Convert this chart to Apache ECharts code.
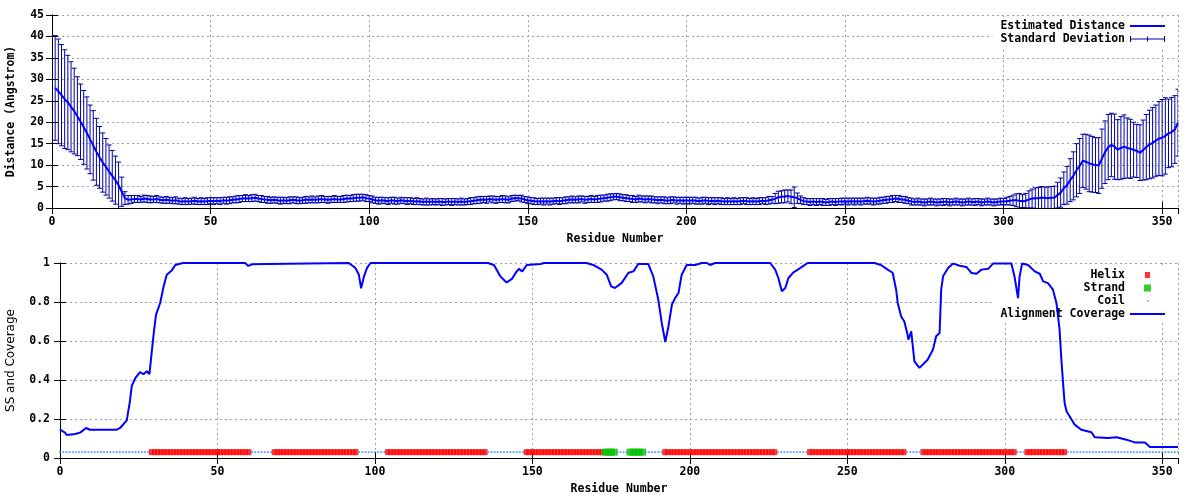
<!DOCTYPE html>
<html><head><meta charset="utf-8">
<script src="https://cdn.jsdelivr.net/npm/echarts@6/dist/echarts.min.js"></script>
<style>html,body{margin:0;padding:0;background:#fff}#c{width:1200px;height:500px}</style>
</head><body><div id="c"></div>
<script>
// ---------- DATA ----------
// Estimated distance per residue (residues 1..355)
const distance = [
 28.0,27.2,26.3,25.4,24.6,23.6,22.6,21.4,20.1,18.8,
 17.5,16.0,14.6,13.1,11.8,10.6,9.6,8.5,7.5,6.5,
 5.3,3.8,2.3,1.9,2.0,2.1,2.1,2.0,2.2,2.1,
 2.0,2.0,2.1,1.9,1.8,1.9,1.8,1.7,1.8,1.6,
 1.5,1.6,1.5,1.6,1.7,1.5,1.6,1.5,1.6,1.7,
 1.6,1.7,1.6,1.8,1.7,1.8,1.9,2.0,2.1,2.2,
 2.3,2.2,2.3,2.4,2.2,2.1,2.0,1.9,1.8,1.9,
 1.8,1.7,1.8,1.7,1.8,1.9,1.8,1.7,1.8,1.9,
 1.9,2.0,1.9,2.0,2.1,2.0,1.9,2.0,2.1,2.0,
 2.0,2.1,2.2,2.2,2.3,2.4,2.4,2.5,2.3,2.2,
 2.0,1.8,1.7,1.8,1.7,1.6,1.8,1.7,1.6,1.8,
 1.7,1.6,1.7,1.5,1.6,1.5,1.4,1.5,1.4,1.5,
 1.4,1.5,1.4,1.4,1.5,1.4,1.5,1.4,1.5,1.4,
 1.5,1.6,1.7,1.8,1.9,2.0,1.9,2.1,2.0,1.9,
 2.0,2.1,2.0,1.9,2.2,2.3,2.3,2.2,2.0,1.8,
 1.7,1.6,1.5,1.6,1.5,1.6,1.5,1.6,1.7,1.6,
 1.7,1.8,1.9,2.0,1.9,2.0,2.1,1.9,2.0,2.1,
 2.0,2.1,2.2,2.3,2.4,2.5,2.6,2.7,2.5,2.4,
 2.3,2.2,2.1,2.0,2.2,2.1,2.0,2.1,2.0,1.9,
 1.8,1.9,1.8,1.7,1.8,1.9,1.7,1.8,1.7,1.8,
 1.7,1.8,1.7,1.6,1.7,1.8,1.6,1.7,1.6,1.7,
 1.6,1.5,1.6,1.5,1.6,1.5,1.6,1.7,1.6,1.5,
 1.6,1.5,1.6,1.7,1.6,1.8,1.9,2.2,2.5,2.6,
 2.7,2.8,2.6,2.5,2.3,1.9,1.6,1.5,1.4,1.5,
 1.4,1.5,1.4,1.3,1.4,1.5,1.4,1.5,1.5,1.6,
 1.5,1.6,1.5,1.6,1.5,1.6,1.7,1.6,1.5,1.6,
 1.7,1.8,1.9,2.0,2.1,2.2,2.1,2.0,1.9,1.7,
 1.5,1.4,1.5,1.4,1.3,1.4,1.5,1.4,1.3,1.4,
 1.4,1.5,1.3,1.4,1.5,1.4,1.3,1.4,1.5,1.4,
 1.4,1.5,1.3,1.4,1.5,1.4,1.3,1.4,1.5,1.5,
 1.6,1.7,1.8,1.8,1.7,1.6,1.7,2.0,2.2,2.3,
 2.3,2.4,2.4,2.3,2.4,2.4,3.0,3.6,4.6,5.3,
 6.5,7.5,8.8,9.8,11.0,10.8,10.4,10.2,10.0,9.9,
 11.5,13.0,14.2,14.7,14.3,13.6,14.0,14.3,14.0,13.8,
 13.6,13.3,12.9,13.5,14.2,14.8,15.2,15.7,16.2,16.4,
 16.8,17.4,17.7,18.3,19.9
];
// Standard deviation per residue (residues 1..355)
const stdDev = [
 12.2,12.2,11.8,11.5,11.0,10.5,10.0,9.2,8.8,8.6,
 8.4,8.0,8.1,7.8,7.2,6.9,6.6,6.2,5.9,5.6,
 5.4,3.4,1.5,1.0,0.9,0.8,0.8,0.7,0.8,0.8,
 0.8,0.7,0.8,0.7,0.7,0.8,0.7,0.7,0.8,0.7,
 0.7,0.8,0.7,0.7,0.8,0.7,0.8,0.7,0.8,0.7,
 0.8,0.7,0.8,0.7,0.8,0.8,0.7,0.8,0.8,0.7,
 0.8,0.7,0.8,0.8,0.7,0.8,0.7,0.8,0.7,0.7,
 0.7,0.8,0.7,0.7,0.8,0.7,0.8,0.7,0.7,0.8,
 0.7,0.8,0.7,0.8,0.8,0.7,0.8,0.7,0.8,0.7,
 0.7,0.8,0.8,0.7,0.8,0.8,0.8,0.7,0.8,0.7,
 0.8,0.7,0.8,0.7,0.7,0.8,0.7,0.8,0.7,0.7,
 0.7,0.8,0.7,0.7,0.8,0.7,0.7,0.8,0.7,0.7,
 0.7,0.7,0.8,0.7,0.7,0.8,0.7,0.7,0.8,0.7,
 0.7,0.8,0.7,0.8,0.8,0.7,0.8,0.7,0.8,0.8,
 0.7,0.8,0.8,0.7,0.7,0.7,0.6,0.8,0.7,0.8,
 0.7,0.8,0.7,0.7,0.8,0.7,0.8,0.7,0.7,0.8,
 0.7,0.8,0.7,0.8,0.7,0.8,0.7,0.8,0.7,0.8,
 0.7,0.8,0.8,0.7,0.8,0.8,0.7,0.7,0.8,0.7,
 0.8,0.7,0.8,0.7,0.8,0.7,0.8,0.7,0.8,0.7,
 0.8,0.7,0.8,0.7,0.8,0.7,0.8,0.7,0.8,0.7,
 0.8,0.7,0.8,0.7,0.8,0.7,0.8,0.7,0.8,0.7,
 0.8,0.7,0.8,0.7,0.8,0.7,0.8,0.7,0.8,0.7,
 0.8,0.7,0.8,0.7,0.8,0.9,0.8,1.2,1.4,1.4,
 1.5,1.4,1.6,2.4,1.2,0.9,0.8,0.7,0.8,0.7,
 0.8,0.7,0.8,0.7,0.8,0.7,0.8,0.7,0.8,0.7,
 0.8,0.7,0.8,0.7,0.8,0.7,0.8,0.7,0.8,0.7,
 0.8,0.7,0.8,0.7,0.8,0.7,0.8,0.7,0.8,0.7,
 0.8,0.7,0.8,0.7,0.8,0.7,0.8,0.7,0.8,0.7,
 0.8,0.7,0.8,0.7,0.8,0.7,0.8,0.7,0.8,0.7,
 0.8,0.7,0.8,0.7,0.8,0.7,0.8,0.7,0.8,0.7,
 0.9,1.0,1.2,1.5,1.7,1.5,1.7,2.0,2.2,2.4,
 2.5,2.6,2.5,2.6,2.6,2.7,3.0,3.4,3.8,4.4,
 5.0,5.6,6.2,6.4,6.2,6.4,6.6,6.5,6.4,6.5,
 6.9,7.3,7.6,7.4,7.6,7.0,7.3,7.4,7.0,6.9,
 6.4,6.2,6.5,7.0,7.6,8.0,8.2,8.3,8.6,8.9,
 8.9,8.0,8.1,7.9,7.8
];
// Alignment coverage readings [residue, coverage]
const coverage = [
 [0,0.145],[1.6,0.13],[2.1,0.118],[4.8,0.123],[6.4,0.13],[8.3,0.154],[9.5,0.145],[18,0.145],[19.1,0.154],[19.6,0.145],
 [21.2,0.193],[22.1,0.28],[22.8,0.37],[23.9,0.41],[25.4,0.44],[26.5,0.43],[27.6,0.445],[28.4,0.43],[29.2,0.555],[29.9,0.66],
 [30.5,0.735],[31.8,0.795],[32.9,0.88],[33.9,0.94],[35.5,0.962],[36.6,0.99],[39,1.0],[58.8,1.0],[59.8,0.985],[61,0.993],
 [65.7,0.995],[66,1.0],[91.7,1.0],[93.8,0.974],[94.9,0.94],[95.6,0.87],[96.5,0.93],[97.5,0.975],[98.6,1.0],[135.9,1.0],
 [137.8,0.99],[139.9,0.93],[141.8,0.9],[143.6,0.92],[144.7,0.95],[145.7,0.97],[146.8,0.957],[148.2,0.99],[152.6,0.995],[153.7,1.0],
 [167.2,1.0],[169.3,0.99],[172,0.966],[173.6,0.94],[175,0.88],[176.2,0.872],[178.3,0.897],[180.5,0.95],[182.1,0.957],[183.6,0.995],
 [186.8,0.995],[188.4,0.93],[190,0.81],[191.1,0.69],[192.2,0.595],[193.2,0.675],[194.3,0.786],[195.3,0.82],[196.4,0.846],[197.4,0.94],
 [199,0.99],[201.7,0.99],[203.8,1.0],[205.4,1.0],[206.4,0.99],[208,1.0],[225.5,1.0],[227.1,0.966],[228.1,0.923],[229.2,0.855],
 [230.3,0.872],[231.3,0.923],[232.9,0.952],[235,0.974],[237.4,1.0],[258.6,1.0],[260.7,0.99],[262.8,0.966],[264.4,0.95],[265.5,0.863],
 [266,0.795],[267.1,0.726],[268.1,0.7],[269,0.641],[269.4,0.607],[270.3,0.65],[271.3,0.496],[272.9,0.462],[275.5,0.504],[277.2,0.556],
 [278.2,0.624],[279.3,0.641],[279.8,0.863],[280.4,0.932],[282,0.974],[283.6,0.997],[285.7,0.986],[287.8,0.98],[289.4,0.949],[291,0.945],
 [292.6,0.966],[294.7,0.97],[296.3,0.997],[302.1,0.997],[303.1,0.93],[304.2,0.82],[304.7,0.93],[305.5,0.997],[307.4,0.99],[309.5,0.957],
 [311.1,0.945],[312.2,0.906],[313.7,0.897],[315.3,0.863],[316.4,0.795],[317.4,0.658],[317.9,0.521],[318.5,0.385],[319,0.282],[319.6,0.24],
 [321.2,0.197],[322.2,0.171],[324.3,0.145],[327.5,0.132],[328.6,0.106],[332.8,0.103],[335.5,0.106],[338.6,0.094],[341.3,0.08],[344.5,0.08],
 [346.1,0.056],[355,0.056]
];
// Secondary structure (residue ranges, inclusive)
const helixRanges = [[29,60],[68,94],[104,135],[148,172],[192,227],[238,268],[274,303],[307,319]];
const strandRanges = [[173,176],[181,185]];
const ssFirstResidue = 0, ssLastResidue = 355;
const ssLevel = 0.03;
// Axis ticks
const xTickStep = 50, xMin = 0, xMax = 355;
const distTickStep = 5, distMax = 45;
const covTickStep = 0.2, covMax = 1;

// ---------- BUILD ----------
const residues = distance.map((_, i) => i + 1);
const distData = residues.map((r, i) => [r, distance[i]]);
const errData = residues.map((r, i) => [r, distance[i] - stdDev[i], distance[i] + stdDev[i]]);
function inRanges(r, ranges) { return ranges.some(g => r >= g[0] && r <= g[1]); }
const helixPts = [], strandPts = [], coilPts = [];
for (let r = ssFirstResidue; r <= ssLastResidue; r++) {
  if (inRanges(r, helixRanges)) helixPts.push([r, ssLevel]);
  else if (inRanges(r, strandRanges)) strandPts.push([r, ssLevel]);
  else coilPts.push([r, ssLevel]);
}

const mono = '"DejaVu Sans Mono", monospace';
const lbl = { fontFamily: mono, fontWeight: 'bold', fontSize: 11.5, color: '#000' };
const gridLine = { show: true, lineStyle: { color: '#a0a0a0', width: 1, type: [2, 3] } };
const blackLine = { show: true, lineStyle: { color: '#000', width: 1 } };
const tickIn = { show: true, inside: true, length: 6, lineStyle: { color: '#000', width: 1 } };

function xMain(gi) {
  return { type: 'value', gridIndex: gi, position: 'bottom', min: xMin, max: xMax, interval: xTickStep,
    axisLine: blackLine, axisTick: tickIn, splitLine: gridLine,
    axisLabel: Object.assign({ margin: 8 }, lbl),
    name: 'Residue Number', nameLocation: 'middle', nameGap: 25, nameTextStyle: lbl };
}
function xMirror(gi) {
  return { type: 'value', gridIndex: gi, position: 'top', min: xMin, max: xMax, interval: xTickStep,
    axisLine: blackLine, axisTick: tickIn, splitLine: { show: false }, axisLabel: { show: false } };
}
function yMirror(gi, max, step) {
  return { type: 'value', gridIndex: gi, position: 'right', min: 0, max: max, interval: step,
    axisLine: blackLine, axisTick: tickIn, splitLine: { show: false }, axisLabel: { show: false } };
}
const corner = 'M0,0h0.01v0.01zM35,12h-0.01v-0.01z';
const lineIcon = 'path://' + corner + 'M0,5h35v2h-35z';
const errIcon = 'path://' + corner + 'M0,3h1v6h-1zM34,3h1v6h-1zM0,5.5h35v1h-35zM17,3.5h1v5h-1z';
const helixIcon = 'path://' + corner + 'M15,3h5v6h-5z';
const strandIcon = 'path://' + corner + 'M14,2.5h7v7h-7z';
const coilIcon = 'path://' + corner + 'M17,5.2h1.6v1.6h-1.6z';
const legendBase = { orient: 'vertical', right: 22, align: 'right', itemWidth: 35, itemHeight: 12, itemGap: 1,
  backgroundColor: '#fff', padding: [3, 13, 3, 8], z: 1, selectedMode: false, textStyle: lbl };

const chart = echarts.init(document.getElementById('c'), null, { renderer: 'canvas' });
chart.setOption({
  animation: false,
  backgroundColor: '#fff',
  grid: [
    { left: 52, right: 22, top: 15, height: 193, outerBoundsMode: 'none', containLabel: false },
    { left: 60, right: 22, top: 263, height: 195, outerBoundsMode: 'none', containLabel: false }
  ],
  xAxis: [xMain(0), xMirror(0), xMain(1), xMirror(1)],
  yAxis: [
    { type: 'value', gridIndex: 0, position: 'left', min: 0, max: distMax, interval: distTickStep,
      axisLine: blackLine, axisTick: tickIn, splitLine: gridLine, axisLabel: Object.assign({ margin: 8 }, lbl),
      name: 'Distance (Angstrom)', nameLocation: 'middle', nameRotate: 90, nameGap: 35, nameTextStyle: lbl },
    yMirror(0, distMax, distTickStep),
    { type: 'value', gridIndex: 1, position: 'left', min: 0, max: covMax, interval: covTickStep,
      axisLine: blackLine, axisTick: tickIn, splitLine: gridLine, axisLabel: Object.assign({ margin: 10 }, lbl),
      name: 'SS and Coverage', nameLocation: 'middle', nameRotate: 90, nameGap: 43,
      nameTextStyle: { fontFamily: '"DejaVu Sans", sans-serif', fontSize: 12, color: '#000' } },
    yMirror(1, covMax, covTickStep)
  ],
  legend: [
    Object.assign({}, legendBase, { top: 17,
      data: [{ name: 'Estimated Distance', icon: lineIcon }, { name: 'Standard Deviation', icon: errIcon }] }),
    Object.assign({}, legendBase, { top: 266,
      data: [{ name: 'Helix', icon: helixIcon }, { name: 'Strand', icon: strandIcon },
             { name: 'Coil', icon: coilIcon }, { name: 'Alignment Coverage', icon: lineIcon }] })
  ],
  series: [
    { name: 'Standard Deviation', type: 'custom', xAxisIndex: 0, yAxisIndex: 0, data: errData, z: 2, clip: true,
      itemStyle: { color: '#0000a0' }, encode: { x: 0, y: [1, 2] },
      renderItem: function (params, api) {
        const x = api.value(0);
        const lo = api.coord([x, api.value(1)]);
        const hi = api.coord([x, api.value(2)]);
        const st = { stroke: '#0000a0', lineWidth: 1 };
        const c = 2.5;
        return { type: 'group', children: [
          { type: 'line', shape: { x1: hi[0], y1: hi[1], x2: lo[0], y2: lo[1] }, style: st },
          { type: 'line', shape: { x1: hi[0] - c, y1: hi[1], x2: hi[0] + c, y2: hi[1] }, style: st },
          { type: 'line', shape: { x1: lo[0] - c, y1: lo[1], x2: lo[0] + c, y2: lo[1] }, style: st }
        ] };
      } },
    { name: 'Estimated Distance', type: 'line', xAxisIndex: 0, yAxisIndex: 0, data: distData, z: 3,
      symbol: 'none', color: '#0000ff', lineStyle: { color: '#0000ff', width: 2 } },
    { name: 'Helix', type: 'scatter', xAxisIndex: 2, yAxisIndex: 2, data: helixPts, z: 2,
      symbol: 'rect', symbolSize: [5, 6], itemStyle: { color: '#ff0000' } },
    { name: 'Strand', type: 'scatter', xAxisIndex: 2, yAxisIndex: 2, data: strandPts, z: 2,
      symbol: 'rect', symbolSize: 7, itemStyle: { color: '#00c000' } },
    { name: 'Coil', type: 'scatter', xAxisIndex: 2, yAxisIndex: 2, data: coilPts, z: 2,
      symbol: 'rect', symbolSize: 1.8, itemStyle: { color: '#1e88ff' } },
    { name: 'Alignment Coverage', type: 'line', xAxisIndex: 2, yAxisIndex: 2, data: coverage, z: 4, clip: false,
      symbol: 'none', color: '#0000ff', lineStyle: { color: '#0000ff', width: 2 } }
  ]
});
</script></body></html>
